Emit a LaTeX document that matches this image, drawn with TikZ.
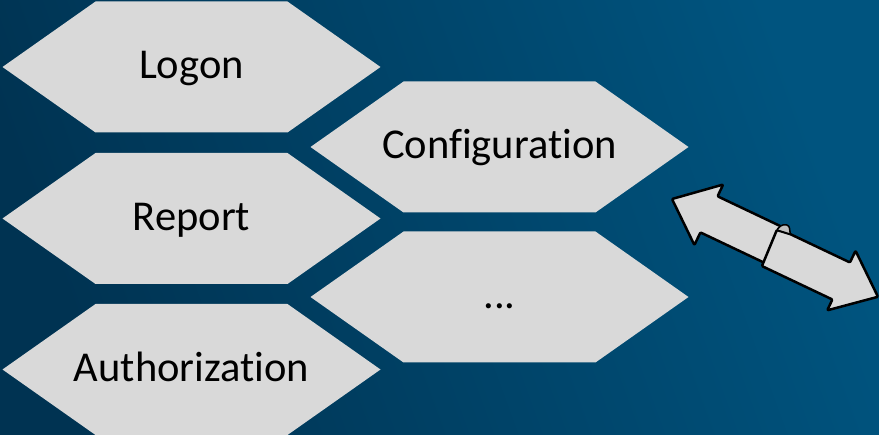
\documentclass[tikz,border=0pt]{standalone}
\usepackage{fontspec}
\setmainfont{Carlito}[Ligatures=NoCommon]
\usetikzlibrary{shapes.symbols}
\definecolor{bgdark}{HTML}{003352}
\definecolor{bglight}{HTML}{00547F}
\definecolor{hexgray}{HTML}{D9D9D9}
\definecolor{foldgray}{HTML}{BFBFBF}
\tikzset{
	hextext/.style={inner sep=0pt, text height=30pt, text depth=6pt, font=\fontsize{42.5}{50}\selectfont},
	hexa/.style={signal, signal to=east and west, signal pointer angle=70.3, fill=hexgray, inner sep=0pt, outer sep=0pt, minimum width=378pt, minimum height=131pt, label={[hextext]center:#1}},
	arrowpart/.style={fill=hexgray, draw=black, line width=2.5pt, line join=round, rounded corners=1pt},
}
\begin{document}
\begin{tikzpicture}[x=1pt,y=-1pt]
		\shade[left color=bgdark, right color=bglight, shading angle=110] (0,0) rectangle (879,435);
		\useasboundingbox (0,0) rectangle (879,435);
		\node[hexa=Logon] (logon) at (191.5,67) {};
		\node[hexa=Report] (report) at (191.5,218.5) {};
		\node[hexa=Authorization] (auth) at (191.5,369.5) {};
		\node[hexa=Configuration] (config) at (499.5,147) {};
		\node[hexa=...] (more) at (499.5,297) {};
		\begin{scope}[shift={(672,199)}, rotate=-25.4]
			\draw[arrowpart] (0,0) -- (40,-35) -- (40,-22) -- (119,-22) -- (119,18) -- (40,18) -- (40,32) -- cycle;
			\draw[arrowpart] (228,0) -- (188,34) -- (188,22) -- (110,22) -- (108,-17) -- (122,-19) -- (188,-19) -- (188,-32) -- cycle;
			\draw[arrowpart, fill=foldgray, line width=1.5pt] (108,-17) .. controls (109,-24) and (114,-27) .. (118,-25) -- (122,-19) -- cycle;
		\end{scope}
\end{tikzpicture}
\end{document}
